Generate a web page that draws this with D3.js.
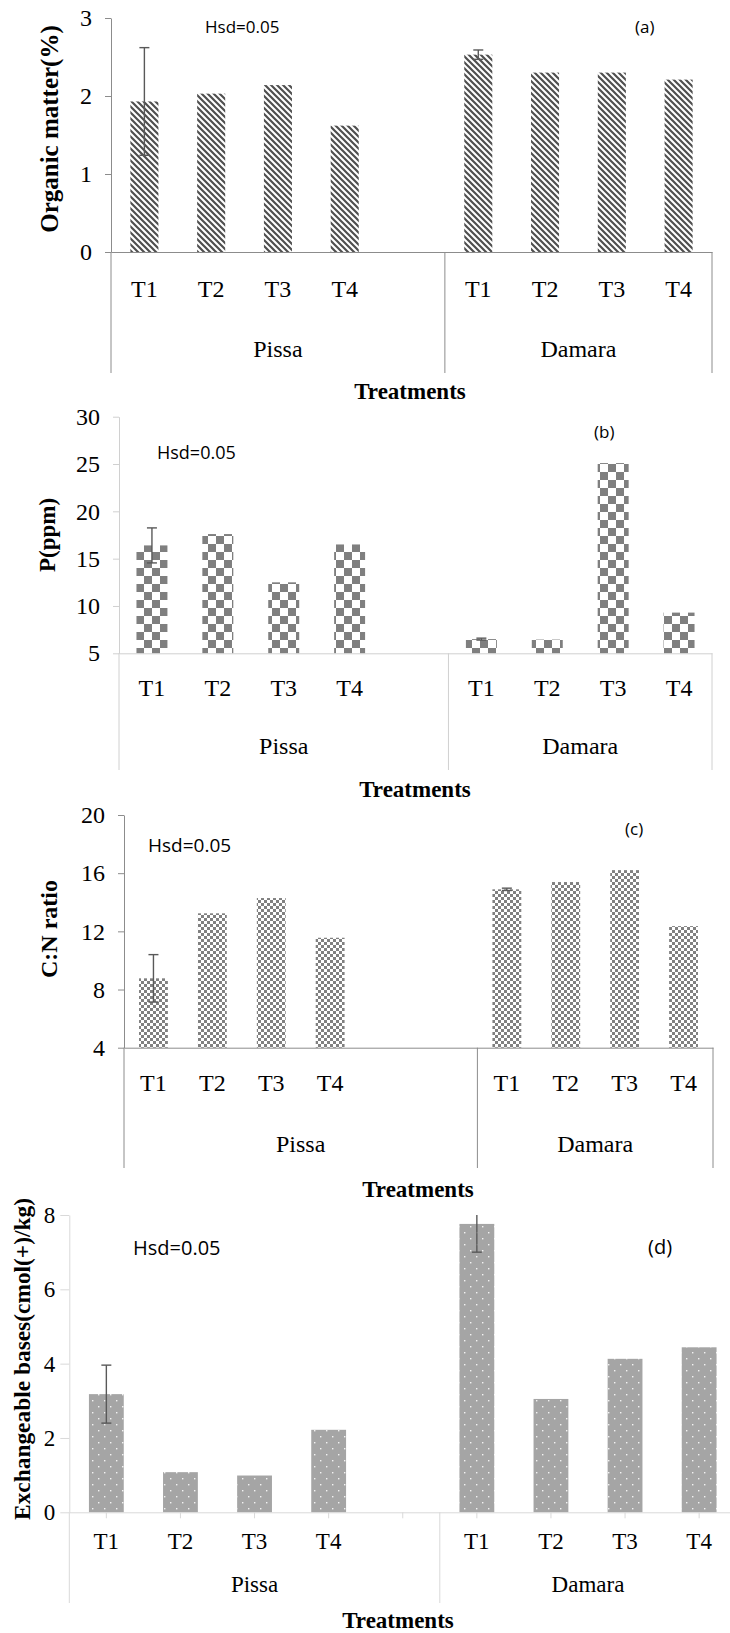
<!DOCTYPE html>
<html>
<head>
<meta charset="utf-8"/>
<script src="https://cdn.jsdelivr.net/npm/d3@7"></script>
<style>
body { margin: 0; background: #fff; }
</style>
</head>
<body>
<svg id="chart" width="730" height="1633"></svg>
<script>
var SERIF = "'Liberation Serif', 'Times New Roman', serif";
var SANS = "'Open Sans', 'Noto Sans', sans-serif";

// categories
var treatments = ["T1", "T2", "T3", "T4"];
var sites = ["Pissa", "Damara"];

// (a) organic matter %
var organicPissa = [1.93, 2.03, 2.14, 1.62];
var organicDamara = [2.53, 2.30, 2.30, 2.21];
var organicErrPissa = [0.69, 0, 0, 0];
var organicErrDamara = [0.06, 0, 0, 0];
var organicTicks = [0, 1, 2, 3];

// (b) P ppm
var phosPissa = [16.4, 17.6, 12.5, 16.5];
var phosDamara = [6.5, 6.45, 25.1, 9.3];
var phosErrPissa = [1.85, 0, 0, 0];
var phosErrDamara = [0.1, 0, 0, 0];
var phosTicks = [5, 10, 15, 20, 25, 30];

// (c) C:N ratio
var cnPissa = [8.77, 13.24, 14.29, 11.56];
var cnDamara = [14.89, 15.39, 16.21, 12.36];
var cnErrPissa = [1.63, 0, 0, 0];
var cnErrDamara = [0.08, 0, 0, 0];
var cnTicks = [4, 8, 12, 16, 20];

// (d) exchangeable bases
var basesPissa = [3.18, 1.08, 0.99, 2.22];
var basesDamara = [7.76, 3.05, 4.13, 4.44];
var basesErrPissa = [0.78, 0, 0, 0];
var basesErrDamara = [0.76, 0, 0, 0];
var basesTicks = [0, 2, 4, 6, 8];

var panels = [
  {vals: [organicPissa, organicDamara], errs: [organicErrPissa, organicErrDamara], ticks: organicTicks,
   title: "Organic matter(%)", tag: "(a)", pattern: "url(#stripes)", axis: "#8c8c8c",
   left: 111, right: 712, top: 18, base: 252, spare: 1, barFrac: 0.42, fs: 24, tickSize: 6, yPad: 13, xTick: 0,
   tickBase: 297, groupBase: 357, lineBottom: 373, xTitle: [410, 399], yTitle: [58, 129, 25],
   hsd: [205, 33, 17], tagPos: [635, 33, 17]},
  {vals: [phosPissa, phosDamara], errs: [phosErrPissa, phosErrDamara], ticks: phosTicks,
   title: "P(ppm)", tag: "(b)", pattern: "url(#checkBig)", axis: "#d0d0d0",
   left: 119, right: 712, top: 416.7, base: 653.3, spare: 1, barFrac: 0.47, fs: 24, tickSize: 6, yPad: 13, xTick: 0,
   tickBase: 696, groupBase: 754, lineBottom: 770, xTitle: [415, 797], yTitle: [55, 535, 23],
   hsd: [157, 459, 18], tagPos: [594, 438, 17]},
  {vals: [cnPissa, cnDamara], errs: [cnErrPissa, cnErrDamara], ticks: cnTicks,
   title: "C:N ratio", tag: "(c)", pattern: "url(#checkSmall)", axis: "#8c8c8c",
   left: 124, right: 713, top: 815, base: 1047.7, spare: 2, barFrac: 0.49, fs: 24, tickSize: 6, yPad: 13, xTick: 0,
   tickBase: 1091.5, groupBase: 1151.7, lineBottom: 1168, xTitle: [418, 1197], yTitle: [57, 929, 24],
   hsd: [148, 852, 19], tagPos: [625, 835, 17]},
  {vals: [basesPissa, basesDamara], errs: [basesErrPissa, basesErrDamara], ticks: basesTicks,
   title: "Exchangeable bases(cmol(+)/kg)", tag: "(d)", pattern: "url(#dots)", axis: "#d9d9d9",
   left: 69.3, right: 736.2, top: 1215, base: 1512.3, spare: 1, barFrac: 0.47, fs: 23, tickSize: 9, yPad: 5, xTick: 6,
   tickBase: 1549, groupBase: 1591.7, lineBottom: 1603, xTitle: [398, 1628], yTitle: [30, 1359, 23.4],
   hsd: [133, 1255, 20], tagPos: [648, 1254, 20]}
];

var svg = d3.select("#chart");
var defs = svg.append("defs");

var p1 = defs.append("pattern").attr("id", "stripes").attr("patternUnits", "userSpaceOnUse")
    .attr("width", 6).attr("height", 6);
p1.append("rect").attr("width", 6).attr("height", 6).attr("fill", "#fff");
p1.append("path").attr("d", "M-1,-1L7,7M-1,5L1,7M5,-1L7,1")
    .attr("stroke", "#4f4f4f").attr("stroke-width", 2.2);

var p2 = defs.append("pattern").attr("id", "checkBig").attr("patternUnits", "userSpaceOnUse")
    .attr("width", 16).attr("height", 16);
p2.append("rect").attr("width", 16).attr("height", 16).attr("fill", "#fff");
p2.append("rect").attr("width", 8).attr("height", 8).attr("fill", "#7f7f7f");
p2.append("rect").attr("x", 8).attr("y", 8).attr("width", 8).attr("height", 8).attr("fill", "#7f7f7f");

var p3 = defs.append("pattern").attr("id", "checkSmall").attr("patternUnits", "userSpaceOnUse")
    .attr("width", 6).attr("height", 6);
p3.append("rect").attr("width", 6).attr("height", 6).attr("fill", "#fff");
p3.append("rect").attr("width", 3).attr("height", 3).attr("fill", "#808080");
p3.append("rect").attr("x", 3).attr("y", 3).attr("width", 3).attr("height", 3).attr("fill", "#808080");

var p4 = defs.append("pattern").attr("id", "dots").attr("patternUnits", "userSpaceOnUse")
    .attr("width", 12).attr("height", 12);
p4.append("rect").attr("width", 12).attr("height", 12).attr("fill", "#a5a5a5");
p4.append("rect").attr("x", 2).attr("y", 2).attr("width", 1.4).attr("height", 1.4).attr("fill", "#f2f2f2");
p4.append("rect").attr("x", 8).attr("y", 8).attr("width", 1.4).attr("height", 1.4).attr("fill", "#f2f2f2");

panels.forEach(function(p) {
  // slots: each site's treatments, Pissa gets spare empty slots
  var slots = [];
  sites.forEach(function(s, si) {
    treatments.forEach(function(t) { slots.push(s + "|" + t); });
    if (si === 0) d3.range(p.spare).forEach(function(k) { slots.push(s + "|_" + k); });
  });

  var x = d3.scaleBand().domain(slots).range([p.left, p.right]).padding(0);
  var y = d3.scaleLinear().domain([p.ticks[0], p.ticks[p.ticks.length - 1]]).range([p.base, p.top]);

  var g = svg.append("g");

  // bars
  var rows = [];
  sites.forEach(function(s, si) {
    treatments.forEach(function(t, ti) {
      rows.push({key: s + "|" + t, v: p.vals[si][ti], e: p.errs[si][ti]});
    });
  });
  var bw = x.bandwidth() * p.barFrac;

  g.selectAll("rect.bar").data(rows).enter().append("rect")
      .attr("class", "bar")
      .attr("x", function(d) { return x(d.key) + (x.bandwidth() - bw) / 2; })
      .attr("y", function(d) { return y(d.v); })
      .attr("width", bw)
      .attr("height", function(d) { return y(p.ticks[0]) - y(d.v); })
      .attr("fill", p.pattern);

  // error bars
  var yMax = p.ticks[p.ticks.length - 1];
  rows.filter(function(d) { return d.e > 0; }).forEach(function(d) {
    var cx = x(d.key) + x.bandwidth() / 2;
    var hi = Math.min(d.v + d.e, yMax), lo = d.v - d.e;
    var eg = g.append("g").attr("stroke", "#595959").attr("stroke-width", 1.4);
    eg.append("line").attr("x1", cx).attr("x2", cx).attr("y1", y(hi)).attr("y2", y(lo));
    if (d.v + d.e <= yMax)
      eg.append("line").attr("x1", cx - 5).attr("x2", cx + 5).attr("y1", y(hi)).attr("y2", y(hi));
    eg.append("line").attr("x1", cx - 5).attr("x2", cx + 5).attr("y1", y(lo)).attr("y2", y(lo));
  });

  // y axis
  var ya = g.append("g")
      .attr("transform", "translate(" + p.left + ",0)")
      .call(d3.axisLeft(y).tickValues(p.ticks).tickFormat(d3.format("d"))
        .tickSizeInner(p.tickSize).tickSizeOuter(0).tickPadding(p.yPad));
  ya.attr("font-family", SERIF).attr("font-size", p.fs);
  ya.selectAll("path,line").attr("stroke", p.axis);
  ya.selectAll("text").attr("font-family", SERIF).attr("font-size", p.fs).attr("fill", "#000");

  // x axis
  var xa = g.append("g")
      .attr("transform", "translate(0," + p.base + ")")
      .call(d3.axisBottom(x).tickSizeInner(p.xTick).tickSizeOuter(0)
        .tickPadding((p.tickBase - p.base) - 0.71 * p.fs - p.xTick)
        .tickFormat(function(d) { var t = d.split("|")[1]; return t.charAt(0) === "_" ? "" : t; }));
  xa.attr("font-family", SERIF).attr("font-size", p.fs);
  xa.selectAll("path,line").attr("stroke", p.axis);
  xa.selectAll("text").attr("font-family", SERIF).attr("font-size", p.fs).attr("fill", "#000");

  // site group lines and labels
  var bounds = [p.left];
  sites.forEach(function(s) {
    var ks = slots.filter(function(k) { return k.split("|")[0] === s; });
    bounds.push(x(ks[ks.length - 1]) + x.bandwidth());
  });
  g.selectAll("line.grp").data(bounds).enter().append("line")
      .attr("class", "grp")
      .attr("x1", function(d) { return d; }).attr("x2", function(d) { return d; })
      .attr("y1", p.base).attr("y2", p.lineBottom)
      .attr("stroke", p.axis);
  g.selectAll("text.site").data(sites).enter().append("text")
      .attr("class", "site")
      .attr("x", function(d, i) { return (bounds[i] + bounds[i + 1]) / 2; })
      .attr("y", p.groupBase)
      .attr("text-anchor", "middle")
      .attr("font-family", SERIF)
      .attr("font-size", p.fs)
      .text(function(d) { return d; });

  // titles
  g.append("text")
      .attr("x", p.xTitle[0]).attr("y", p.xTitle[1])
      .attr("text-anchor", "middle").attr("font-family", SERIF)
      .attr("font-weight", "bold").attr("font-size", 23)
      .text("Treatments");
  g.append("text")
      .attr("transform", "translate(" + p.yTitle[0] + "," + p.yTitle[1] + ") rotate(-90)")
      .attr("text-anchor", "middle").attr("font-family", SERIF)
      .attr("font-weight", "bold").attr("font-size", p.yTitle[2])
      .text(p.title);
  g.append("text")
      .attr("x", p.hsd[0]).attr("y", p.hsd[1])
      .attr("font-family", SANS).attr("font-size", p.hsd[2])
      .text("Hsd=0.05");
  g.append("text")
      .attr("x", p.tagPos[0]).attr("y", p.tagPos[1])
      .attr("font-family", SANS).attr("font-size", p.tagPos[2])
      .text(p.tag);
});
</script>
</body>
</html>
